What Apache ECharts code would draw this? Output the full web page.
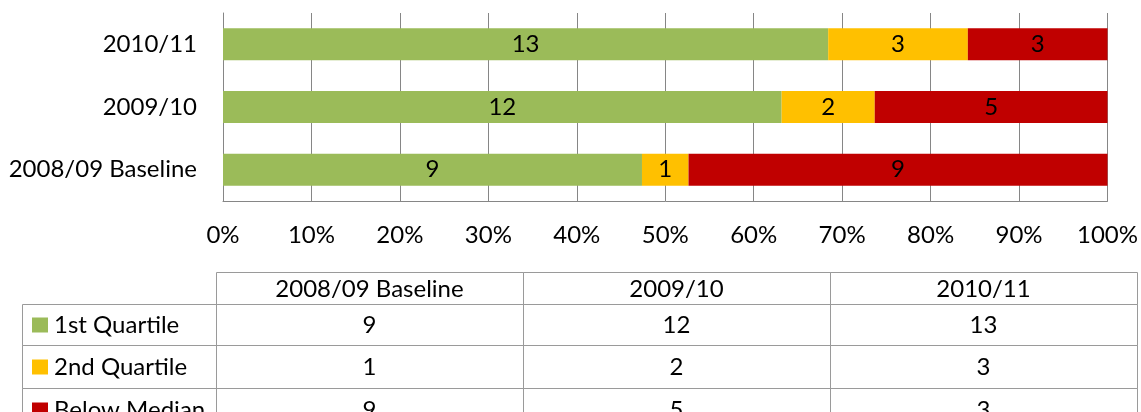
<!DOCTYPE html>
<html>
<head>
<meta charset="utf-8">
<script src="https://cdn.jsdelivr.net/npm/echarts@6/dist/echarts.min.js"></script>
<style>
html,body{margin:0;padding:0;background:#fff;}
#chart{width:1141px;height:412px;}
</style>
</head>
<body>
<div id="chart"></div>
<script>
// ---- data ----
const categories = ['2008/09 Baseline', '2009/10', '2010/11'];
const seriesNames = ['1st Quartile', '2nd Quartile', 'Below Median'];
const firstQuartile = [9, 12, 13];
const secondQuartile = [1, 2, 3];
const belowMedian = [9, 5, 3];
const seriesColors = ['#9BBB59', '#FFC000', '#C00000'];

// ---- build ----
const counts = [firstQuartile, secondQuartile, belowMedian];
const totals = categories.map((c, i) => counts.reduce((s, arr) => s + arr[i], 0));
const FONT = 'Lato, "Open Sans", sans-serif';
const FS = 24;
const TXT = '#000';

const series = seriesNames.map((name, si) => ({
  name: name,
  type: 'bar',
  stack: 'total',
  barWidth: 32,
  itemStyle: { color: seriesColors[si] },
  label: {
    show: true,
    position: 'inside',
    color: TXT,
    fontFamily: FONT,
    fontSize: FS,
    formatter: p => String(counts[si][p.dataIndex])
  },
  data: counts[si].map((v, i) => v / totals[i] * 100)
}));

// ---- table (data table under the chart) ----
const colX = [216, 523, 830, 1137];
const labelLeft = 22;
const rowY = [272, 304, 345, 388, 431];
const graphics = [];
const BORDER = '#9a9a9a';
function cell(x1, y1, x2, y2) {
  graphics.push({
    type: 'rect',
    shape: { x: x1 + 0.5, y: y1 + 0.5, width: x2 - x1, height: y2 - y1 },
    style: { fill: 'none', stroke: BORDER, lineWidth: 1 },
    silent: true
  });
}
function text(str, x, y, align) {
  graphics.push({
    type: 'text',
    x: x, y: y,
    style: { text: str, fontFamily: FONT, fontSize: FS, fill: TXT, align: align, verticalAlign: 'middle' },
    silent: true
  });
}
// header
categories.forEach((c, ci) => {
  cell(colX[ci], rowY[0], colX[ci + 1], rowY[1]);
  text(c, (colX[ci] + colX[ci + 1]) / 2, (rowY[0] + rowY[1]) / 2 + 1, 'center');
});
// rows
seriesNames.forEach((name, si) => {
  const y1 = rowY[si + 1], y2 = rowY[si + 2];
  const cy = (y1 + y2) / 2 + 1;
  cell(labelLeft, y1, colX[0], y2);
  graphics.push({
    type: 'rect',
    shape: { x: 32, y: cy - 8, width: 16, height: 15 },
    style: { fill: seriesColors[si] },
    silent: true
  });
  text(name, 54, cy, 'left');
  categories.forEach((c, ci) => {
    cell(colX[ci], y1, colX[ci + 1], y2);
    text(String(counts[si][ci]), (colX[ci] + colX[ci + 1]) / 2, cy, 'center');
  });
});

const chart = echarts.init(document.getElementById('chart'));
chart.setOption({
  animation: false,
  backgroundColor: '#fff',
  grid: { left: 223, right: 33, top: 13, bottom: 211, containLabel: false },
  xAxis: {
    type: 'value',
    min: 0, max: 100, interval: 10,
    axisLine: { show: true, lineStyle: { color: '#868686', width: 1 } },
    axisTick: { show: false },
    splitLine: { show: true, lineStyle: { color: '#868686', width: 1 } },
    axisLabel: { formatter: '{value}%', color: TXT, fontFamily: FONT, fontSize: FS, margin: 22 }
  },
  yAxis: {
    type: 'category',
    data: categories,
    axisLine: { show: true, lineStyle: { color: '#868686', width: 1 } },
    axisTick: { show: false },
    axisLabel: { color: TXT, fontFamily: FONT, fontSize: FS, margin: 26 }
  },
  series: series,
  graphic: graphics
});
</script>
</body>
</html>
